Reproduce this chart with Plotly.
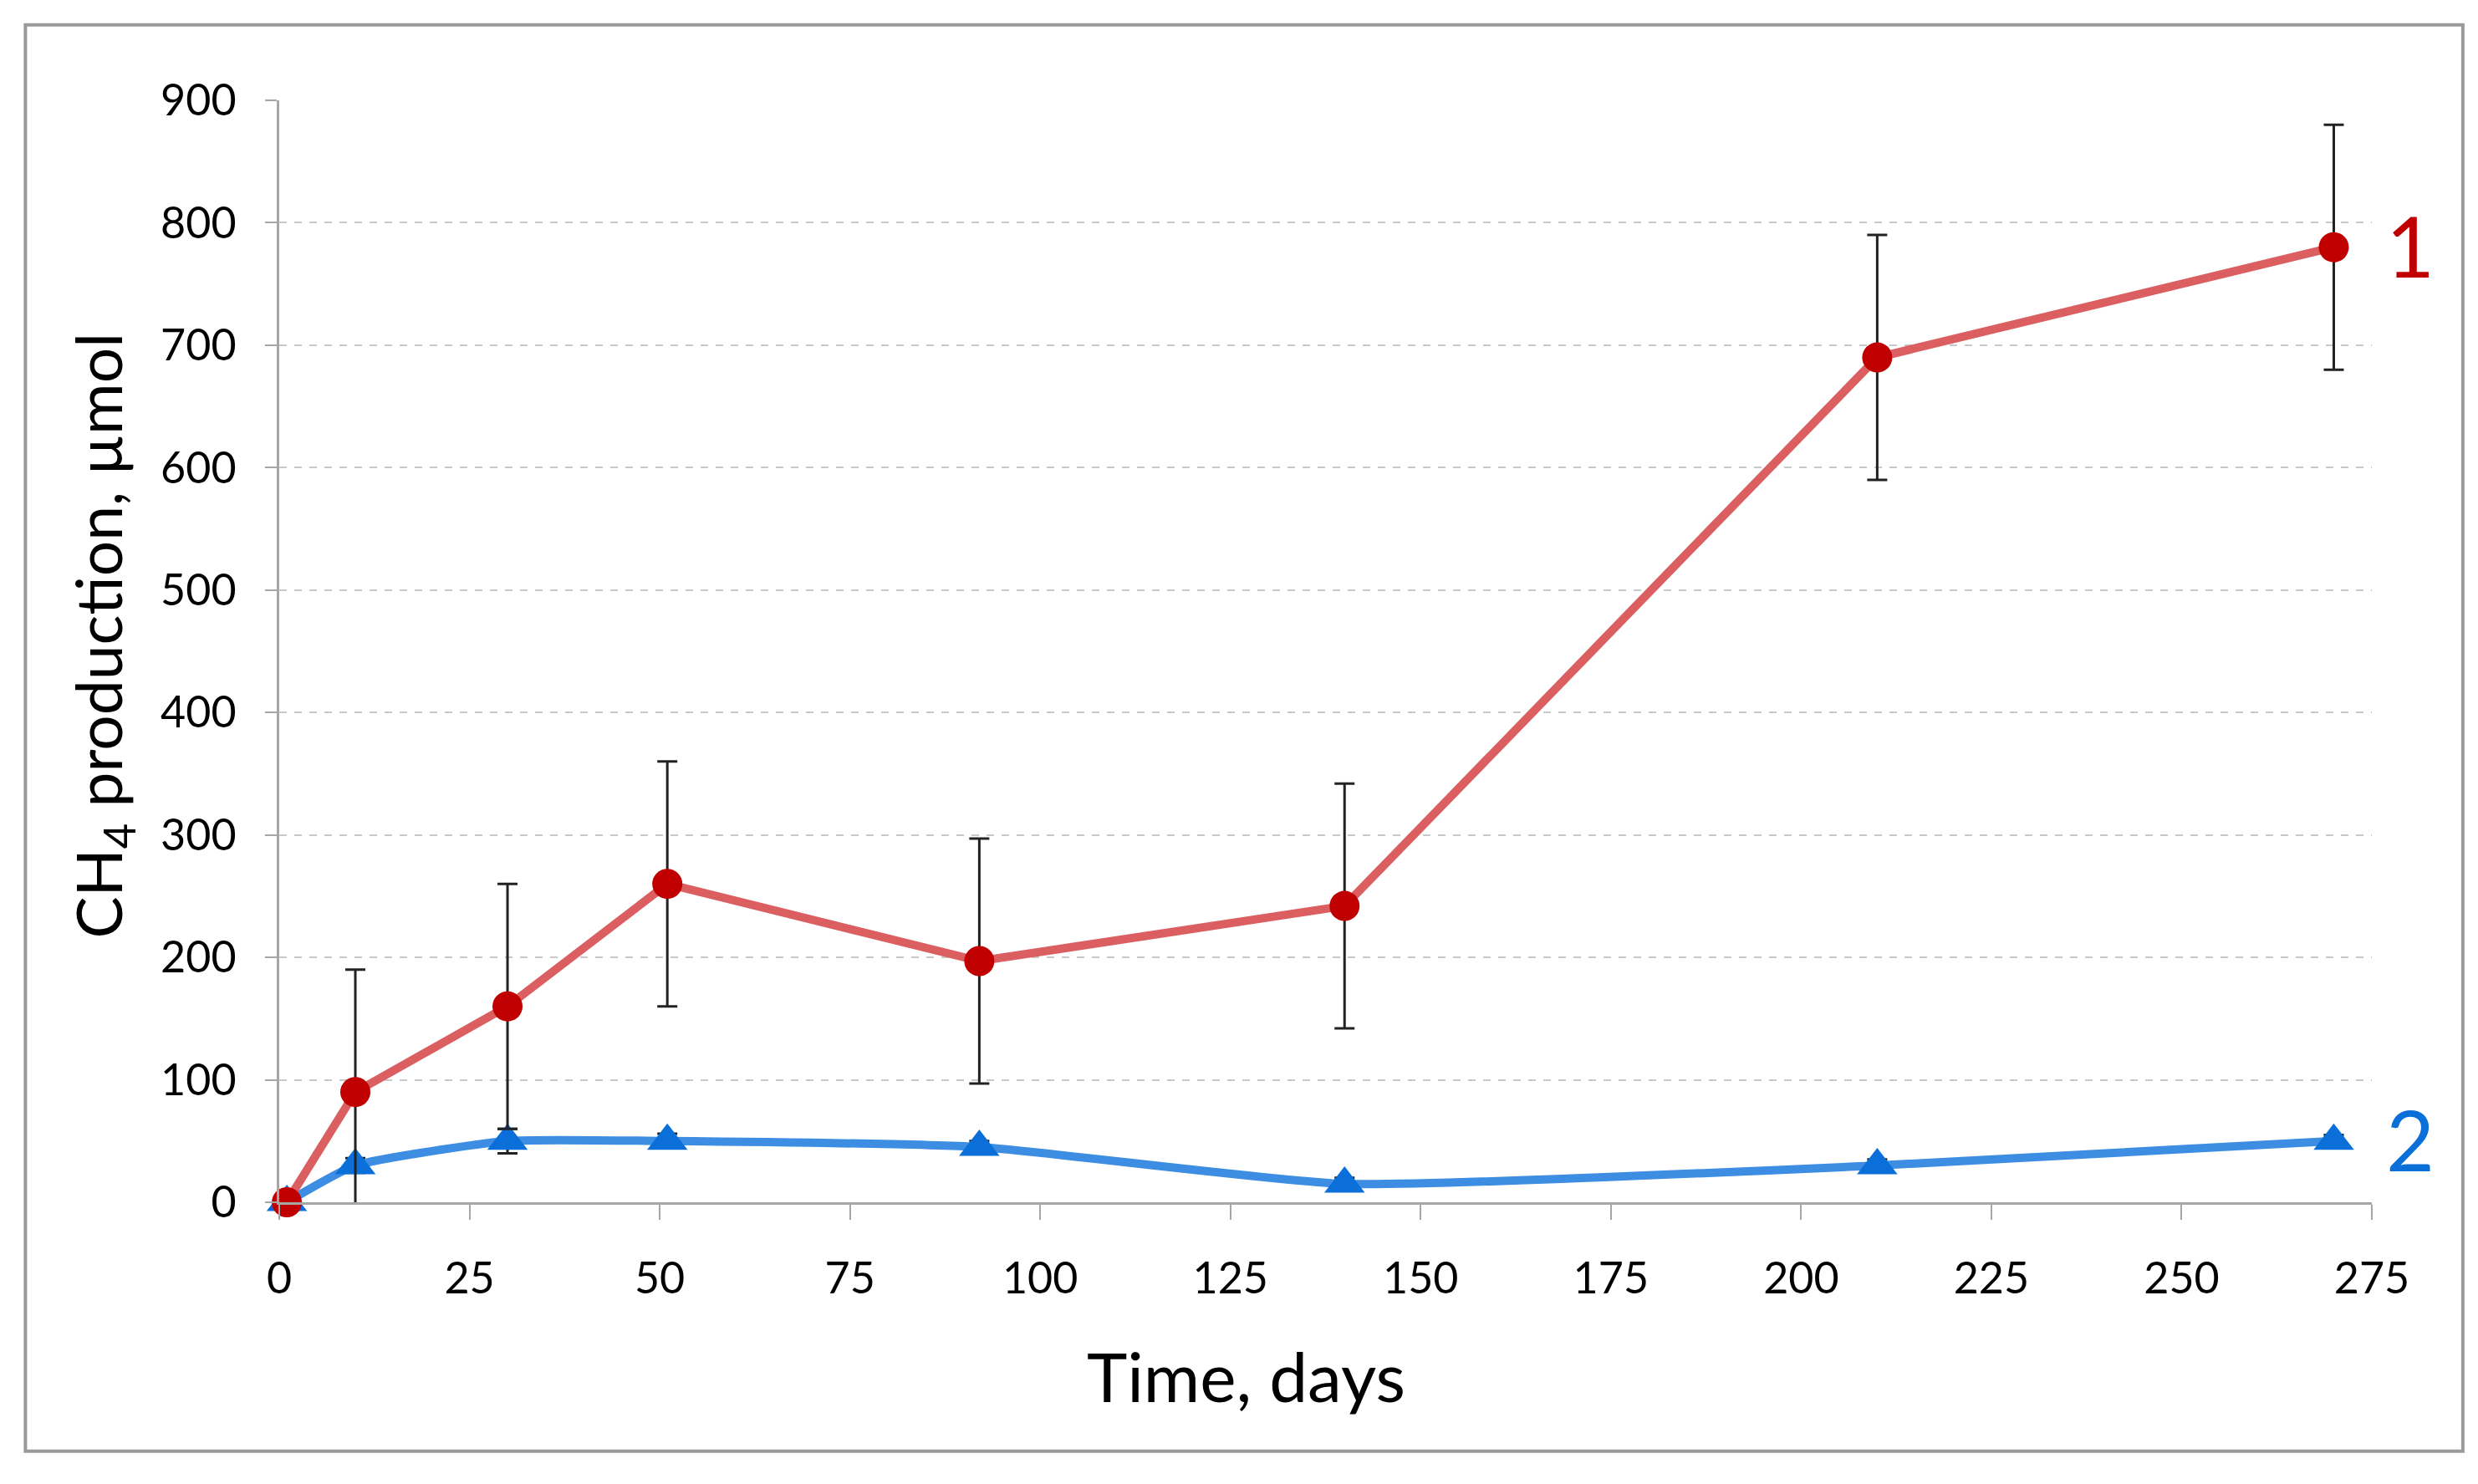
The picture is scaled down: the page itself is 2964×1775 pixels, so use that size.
import plotly.graph_objects as go

# Data
days = [1, 10, 30, 51, 92, 140, 210, 270]
ch4_series1 = [0, 90, 160, 260, 197, 242, 690, 780]
err_series1 = [0, 100, 100, 100, 100, 100, 100, 100]
ch4_series2 = [0, 30, 50, 50, 45, 15, 30, 50]
err_series2 = [0, 6, 10, 6, 5, 5, 5, 5]
x_ticks = [0, 25, 50, 75, 100, 125, 150, 175, 200, 225, 250, 275]
y_ticks = [0, 100, 200, 300, 400, 500, 600, 700, 800, 900]
series_labels = ["1", "2"]
label_y = [782, 52]

FONT = "Lato"
RED_MARK = "#C00000"
BLUE_MARK = "#0B6FD9"
X_MAX = 275

fig = go.Figure()

fig.add_trace(go.Scatter(
    x=days, y=ch4_series2, mode="lines+markers",
    line=dict(color="#3D8EE3", width=10, shape="spline", smoothing=0.5),
    marker=dict(symbol="triangle-up", size=42, color=BLUE_MARK),
    error_y=dict(type="data", array=err_series2, color="#222222", thickness=3, width=12),
    showlegend=False, cliponaxis=False,
))
fig.add_trace(go.Scatter(
    x=days, y=ch4_series1, mode="lines+markers",
    line=dict(color="#DB5F60", width=10),
    marker=dict(symbol="circle", size=36, color=RED_MARK),
    error_y=dict(type="data", array=err_series1, color="#222222", thickness=3, width=12),
    showlegend=False, cliponaxis=False,
))

# Series labels "1" and "2" just to the right of the plot area
for lab, yv, col in zip(series_labels, label_y, [RED_MARK, BLUE_MARK]):
    fig.add_annotation(x=1.006, y=yv, xref="paper", yref="y", text=lab,
                       showarrow=False, xanchor="left", yanchor="middle",
                       font=dict(family=FONT, size=100, color=col))

# Axis titles
fig.add_annotation(x=-0.0843, y=0.514, xref="paper", yref="paper",
                   text="CH<sub>4</sub> production, µmol", textangle=-90,
                   showarrow=False, xanchor="center", yanchor="middle",
                   font=dict(family=FONT, size=75, color="#000000"))
fig.add_annotation(x=0.462, y=-0.157, xref="paper", yref="paper",
                   text="Time, days", showarrow=False,
                   xanchor="center", yanchor="middle",
                   font=dict(family=FONT, size=82, color="#000000"))

# Outer border
fig.add_shape(type="rect", xref="paper", yref="paper",
              x0=-0.1213, x1=1.0435, y0=-0.226, y1=1.0685,
              line=dict(color="#9a9a9a", width=4), layer="below")

fig.update_xaxes(
    range=[0, X_MAX], tickvals=x_ticks, ticks="outside", ticklen=18, tickwidth=2,
    tickcolor="#a6a6a6", showline=True, linecolor="#a6a6a6", linewidth=3,
    showgrid=False, zeroline=False, ticklabelstandoff=26,
    tickfont=dict(family=FONT, size=52, color="#000000"),
)
fig.update_yaxes(
    range=[0, 900], tickvals=y_ticks, ticks="outside", ticklen=14, tickwidth=2,
    tickcolor="#a6a6a6", showline=True, linecolor="#a6a6a6", linewidth=3,
    showgrid=True, gridcolor="#c8c8c8", gridwidth=2, griddash="dash",
    zeroline=False, ticklabelstandoff=24,
    tickfont=dict(family=FONT, size=52, color="#000000"),
)

fig.update_layout(
    width=2964, height=1775,
    margin=dict(l=326, r=135, t=112, b=345),
    plot_bgcolor="white", paper_bgcolor="white",
)

fig.write_html("out.html")
